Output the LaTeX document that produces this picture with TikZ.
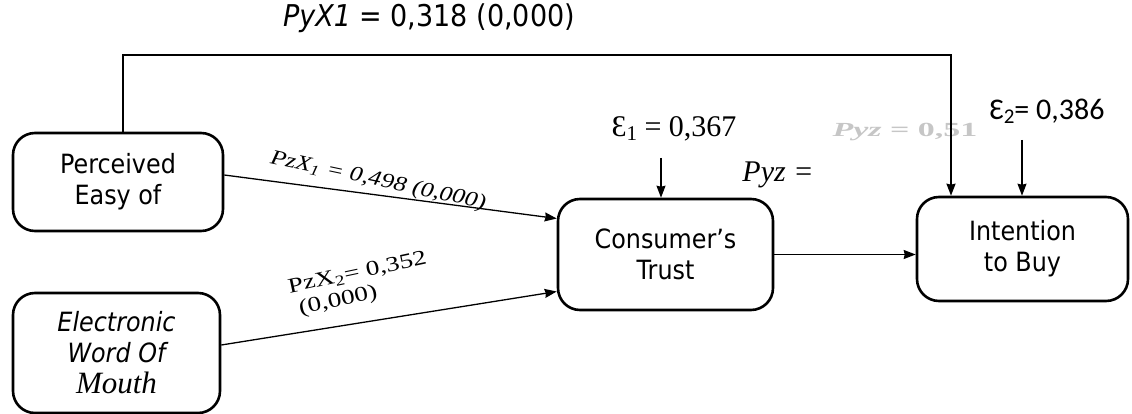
\documentclass[tikz,border=0pt]{standalone}
\usepackage{fontspec}
\setmainfont{Liberation Serif}
\newfontfamily\tahoma[FakeStretch=0.9]{DejaVu Sans}
\newfontfamily\calib{Carlito}
\usetikzlibrary{arrows.meta}
\tikzset{
  varbox/.style={draw,line width=2.6pt,rounded corners=22pt,align=center,inner sep=0pt,
    font=\tahoma\fontsize{26.5}{31}\selectfont},
  link/.style={line width=1.3pt},
  coef/.style={inner sep=0pt,font=\fontsize{21}{23}\selectfont}
}
\begin{document}
\begin{tikzpicture}[x=1pt,y=-1pt,>={Stealth[length=12pt,width=9pt,inset=1pt]}]
\useasboundingbox (0,0) rectangle (1132,414);
% variables
\node[varbox,minimum width=210pt,minimum height=98pt] (pe) at (118,182) {Perceived\\Easy of};
\node[varbox,minimum width=207pt,minimum height=120pt] (ewom) at (116.5,353)
  {{\itshape Electronic}\\{\itshape Word Of}\\{\rmfamily\itshape\fontsize{31}{31}\selectfont Mouth}};
\node[varbox,minimum width=215pt,minimum height=111pt] (trust) at (665.5,254.5) {Consumer’s\\Trust};
\node[varbox,minimum width=211pt,minimum height=104pt] (intent) at (1022.5,249) {Intention\\to Buy};

% residuals
\node[inner sep=0pt,font=\fontsize{30}{30}\selectfont] (e1) at (674,129)
  {Ɛ\raisebox{-4pt}{\fontsize{21}{21}\selectfont 1} = 0,367};
\node[inner sep=0pt,font=\calib\fontsize{30}{30}\selectfont] (e2) at (1047,111)
  {Ɛ\raisebox{-4pt}{\fontsize{21}{21}\selectfont 2}= 0,386};
\coordinate (e1top) at (661,158);
\coordinate (e2top) at (1022,140);
\draw[link,->] (e1top) -- (e1top |- trust.north);
\draw[link,->] (e2top) -- (e2top |- intent.north);

% path coefficients
\node[inner sep=0pt,font=\tahoma\fontsize{30}{30}\selectfont] (pyx) at (429,18)
  {\itshape PyX1\upshape{} = 0,318 (0,000)};
\node[inner sep=0pt,font=\fontsize{30}{30}\selectfont] (pyz) at (778,175) {\itshape Pyz =};
\node[inner sep=0pt,text=gray!45,font=\bfseries\fontsize{20}{20}\selectfont] (pyzg) at (905,132)
  {\scalebox{1.7}[1]{\itshape Pyz\upshape{} = 0,51}};
\node[coef,rotate=-12] (pzx1) at (378,181)
  {\scalebox{1.22}[1]{\itshape PzX\textsubscript{1} = 0,498 (0,000)}};
\node[coef,rotate=12,align=left] (pzx2) at (360,285)
  {\scalebox{1.3}[1]{PzX\textsubscript{2}= 0,352}\\\hspace*{6pt}\scalebox{1.3}[1]{(0,000)}};

\coordinate (tl) at (123,55);
\coordinate (tr) at (951,55);
\draw[line width=1.8pt,->] (pe.north -| tl) -- (tl) -- (tr) -- (tr |- intent.north);
\draw[link,->] ([yshift=7pt]pe.east) -- ([yshift=36pt]trust.west);
\draw[link,->] ([yshift=8pt]ewom.east) -- ([yshift=-37pt]trust.west);
\draw[link,->] (trust.east) -- (trust.east -| intent.west);
\end{tikzpicture}
\end{document}
